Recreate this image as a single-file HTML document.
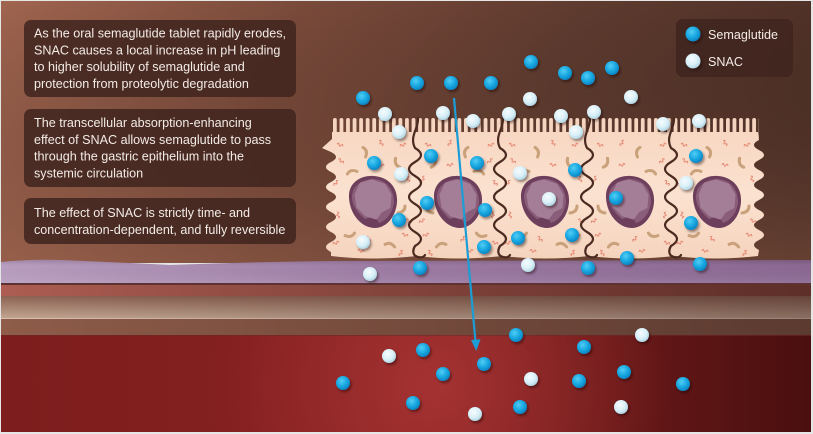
<!DOCTYPE html>
<html><head><meta charset="utf-8"><style>
html,body{margin:0;padding:0;background:#e6e6e6;}
svg{display:block;}
text{font-family:"Liberation Sans",Arial,sans-serif;}
</style></head><body>
<svg width="813" height="434" viewBox="0 0 813 434" xmlns="http://www.w3.org/2000/svg">
<defs>
  <linearGradient id="bgTop" x1="0" y1="0" x2="813" y2="120" gradientUnits="userSpaceOnUse">
    <stop offset="0" stop-color="#a0654f"/>
    <stop offset="0.35" stop-color="#7b4b3b"/>
    <stop offset="0.7" stop-color="#5f3b2f"/>
    <stop offset="1" stop-color="#4f3127"/>
  </linearGradient>
  <linearGradient id="bgTopV" x1="0" y1="0" x2="0" y2="260" gradientUnits="userSpaceOnUse">
    <stop offset="0" stop-color="#000" stop-opacity="0"/>
    <stop offset="1" stop-color="#8c5a46" stop-opacity="0.35"/>
  </linearGradient>
  <linearGradient id="purp" x1="0" y1="0" x2="813" y2="0" gradientUnits="userSpaceOnUse">
    <stop offset="0" stop-color="#b89ec0"/>
    <stop offset="0.5" stop-color="#9c7aa2"/>
    <stop offset="1" stop-color="#8a6892"/>
  </linearGradient>
  <linearGradient id="purpV" x1="0" y1="258" x2="0" y2="283" gradientUnits="userSpaceOnUse">
    <stop offset="0" stop-color="#3a2030" stop-opacity="0.25"/>
    <stop offset="0.3" stop-color="#3a2030" stop-opacity="0"/>
    <stop offset="1" stop-color="#fff" stop-opacity="0.08"/>
  </linearGradient>
  <linearGradient id="band1" x1="0" y1="0" x2="813" y2="0" gradientUnits="userSpaceOnUse">
    <stop offset="0" stop-color="#ad5d52"/>
    <stop offset="1" stop-color="#80423a"/>
  </linearGradient>
  <linearGradient id="band2" x1="0" y1="296" x2="0" y2="318" gradientUnits="userSpaceOnUse">
    <stop offset="0" stop-color="#8c6253"/>
    <stop offset="1" stop-color="#c2a591"/>
  </linearGradient>
  <linearGradient id="band3" x1="0" y1="0" x2="813" y2="0" gradientUnits="userSpaceOnUse">
    <stop offset="0" stop-color="#8e5c49"/>
    <stop offset="1" stop-color="#5b3a30"/>
  </linearGradient>
  <linearGradient id="darkR" x1="0" y1="0" x2="813" y2="0" gradientUnits="userSpaceOnUse">
    <stop offset="0" stop-color="#1e0a08" stop-opacity="0"/>
    <stop offset="1" stop-color="#1e0a08" stop-opacity="0.35"/>
  </linearGradient>
  <linearGradient id="blood" x1="0" y1="0" x2="813" y2="0" gradientUnits="userSpaceOnUse">
    <stop offset="0" stop-color="#7e1d1d"/>
    <stop offset="0.5" stop-color="#862121"/>
    <stop offset="1" stop-color="#4a0f0f"/>
  </linearGradient>
  <radialGradient id="bloodHi" cx="440" cy="385" r="230" gradientUnits="userSpaceOnUse">
    <stop offset="0" stop-color="#b03838" stop-opacity="0.75"/>
    <stop offset="1" stop-color="#b03838" stop-opacity="0"/>
  </radialGradient>
  <linearGradient id="cellG" x1="0" y1="132" x2="0" y2="258" gradientUnits="userSpaceOnUse">
    <stop offset="0" stop-color="#f7d7c2"/>
    <stop offset="0.5" stop-color="#fbe2d0"/>
    <stop offset="1" stop-color="#f5d4be"/>
  </linearGradient>
  <pattern id="vil" x="333" y="118" width="6.55" height="30" patternUnits="userSpaceOnUse">
    <rect x="0" y="0" width="3.8" height="30" rx="1.9" fill="#f6d5c0"/>
  </pattern>
  <radialGradient id="gb" cx="0.4" cy="0.35" r="0.7">
    <stop offset="0" stop-color="#52cdf4"/>
    <stop offset="0.55" stop-color="#18a7e1"/>
    <stop offset="1" stop-color="#0a7fbd"/>
  </radialGradient>
  <radialGradient id="gs" cx="0.4" cy="0.35" r="0.7">
    <stop offset="0" stop-color="#f6fcfe"/>
    <stop offset="0.6" stop-color="#d8eff7"/>
    <stop offset="1" stop-color="#a9d0df"/>
  </radialGradient>
  <filter id="sh" x="-50%" y="-50%" width="200%" height="200%">
    <feDropShadow dx="1.5" dy="2" stdDeviation="1.3" flood-color="#1a0a05" flood-opacity="0.45"/>
  </filter>
  <circle id="b" r="7" fill="url(#gb)"/>
  <circle id="s" r="7" fill="url(#gs)"/>
  <g id="nuc">
    <path d="M-24,-4 C-25,-21 -10,-27 1,-26 C15,-25 25,-15 24,0 C23,15 13,26 2,26 C-11,26 -23,13 -24,-4 Z" fill="#6e3f5c"/>
    <path d="M-21,-5 C-21,-18 -8,-23 1,-23 C13,-22 21,-13 21,0 C20,11 13,19 6,21 L2,14 L-8,17 C-15,11 -21,4 -21,-5 Z" fill="#8a5d7a"/>
    <path d="M-17,-7 L-12,-18 L-1,-21 L11,-17 L17,-7 L16,5 L8,9 L3,16 L-7,13 L-15,5 Z" fill="#a47e96" stroke="#a47e96" stroke-width="3" stroke-linejoin="round"/>
  </g>
  <g id="org" fill="none" stroke-linecap="round">
    <g stroke="#c9a17a" stroke-width="3">
      <path d="M-4,-3 Q2,-3 3,4" transform="translate(-8,-51) rotate(30)"/>
      <path d="M-4,-3 Q2,-3 3,4" transform="translate(-21,-31) rotate(-60)"/>
      <path d="M-4,-3 Q2,-3 3,4" transform="translate(24,-40) rotate(200)"/>
      <path d="M-4,-3 Q2,-3 3,4" transform="translate(29,7) rotate(90)"/>
      <path d="M-4,-3 Q2,-3 3,4" transform="translate(-23,32) rotate(120)"/>
      <path d="M-4,-3 Q2,-3 3,4" transform="translate(17,42) rotate(-30)"/>
    </g>
    <g stroke="#e58571" stroke-width="1">
      <path d="M-3,0 q1,-2.5 2,0 t2,0 t2,0" transform="translate(-33,-58) rotate(20)"/>
      <path d="M-3,0 q1,-2.5 2,0 t2,0 t2,0" transform="translate(8,-60) rotate(60)"/>
      <path d="M-3,0 q1,-2.5 2,0 t2,0 t2,0" transform="translate(30,-58) rotate(-20)"/>
      <path d="M-3,0 q1,-2.5 2,0 t2,0 t2,0" transform="translate(-32,-42) rotate(40)"/>
      <path d="M-3,0 q1,-2.5 2,0 t2,0 t2,0" transform="translate(8,-38) rotate(10)"/>
      <path d="M-3,0 q1,-2.5 2,0 t2,0 t2,0" transform="translate(35,-24) rotate(70)"/>
      <path d="M-3,0 q1,-2.5 2,0 t2,0 t2,0" transform="translate(-37,-20) rotate(-50)"/>
      <path d="M-3,0 q1,-2.5 2,0 t2,0 t2,0" transform="translate(36,18) rotate(30)"/>
      <path d="M-3,0 q1,-2.5 2,0 t2,0 t2,0" transform="translate(-35,12) rotate(80)"/>
      <path d="M-3,0 q1,-2.5 2,0 t2,0 t2,0" transform="translate(-37,40) rotate(-20)"/>
      <path d="M-3,0 q1,-2.5 2,0 t2,0 t2,0" transform="translate(-5,36) rotate(50)"/>
      <path d="M-3,0 q1,-2.5 2,0 t2,0 t2,0" transform="translate(32,32) rotate(20)"/>
      <path d="M-3,0 q1,-2.5 2,0 t2,0 t2,0" transform="translate(-12,48) rotate(10)"/>
      <path d="M-3,0 q1,-2.5 2,0 t2,0 t2,0" transform="translate(28,50) rotate(-60)"/>
    </g>
  </g>
  <path id="bnd" d="M2,118 C3,128 -7,136 -1,148 q12,7 0,14 t0,14 t0,14 t0,14 t0,14 t0,14 t0,14 c-3,5 -2,10 3,11 c3,1 6,0 7,-2" fill="none" stroke="#4b2a20" stroke-width="2.2" stroke-linecap="round"/>
</defs>

<rect x="0" y="0" width="813" height="434" fill="#e6e6e6"/>

<rect x="1" y="1" width="810" height="262" fill="url(#bgTop)"/>
<rect x="1" y="1" width="810" height="262" fill="url(#bgTopV)"/>

<path d="M1,262 Q30,259 60,260 Q110,262 170,265 Q250,262 330,261 L811,260 L811,283 L1,283 Z" fill="url(#purp)"/>
<path d="M1,262 Q30,259 60,260 Q110,262 170,265 Q250,262 330,261 L811,260 L811,283 L1,283 Z" fill="url(#purpV)"/>

<rect x="1" y="283" width="810" height="2" fill="#5e3232"/>
<rect x="1" y="285" width="810" height="11" fill="url(#band1)"/>
<rect x="1" y="296" width="810" height="22" fill="url(#band2)"/>
<rect x="1" y="318" width="810" height="1" fill="#d6bfb0"/>
<rect x="1" y="319" width="810" height="16" fill="url(#band3)"/>
<rect x="1" y="285" width="810" height="34" fill="url(#darkR)"/>

<rect x="1" y="335" width="810" height="97" fill="url(#blood)"/>
<rect x="1" y="335" width="810" height="97" fill="url(#bloodHi)"/>
<rect x="1" y="335" width="810" height="1" fill="#6a2a26" opacity="0.6"/>

<rect x="333" y="118" width="426" height="20" fill="url(#vil)"/>
<path d="M332,132 L758,132 L759,140 Q749,145 759,150 T759,160 T759,170 T759,180 T759,190 T759,200 T759,210 T759,220 T759,230 T759,240 T759,250 L758,256 Q715,261 674,256 Q630,261 589,256 Q545,261 502,256 Q458,261 417,256 Q372,261 331,256 L331,252 Q321,247 331,242 T331,232 T331,222 T331,212 T331,202 T331,192 T331,182 T331,172 T331,162 T331,152 L322,148 L332,139 Z" fill="url(#cellG)"/>

<use href="#org" x="373" y="203"/>
<use href="#org" x="458" y="203" transform="translate(916,0) scale(-1,1)"/>
<use href="#org" x="545" y="203"/>
<use href="#org" x="630" y="203" transform="translate(1260,0) scale(-1,1)"/>
<use href="#org" x="717" y="203"/>

<use href="#nuc" x="373" y="202"/>
<use href="#nuc" x="458" y="202"/>
<use href="#nuc" x="545" y="202"/>
<use href="#nuc" x="630" y="202"/>
<use href="#nuc" x="717" y="202"/>

<use href="#bnd" x="416" y="0"/>
<use href="#bnd" x="501" y="0"/>
<use href="#bnd" x="588" y="0"/>
<use href="#bnd" x="672" y="0"/>

<line x1="454" y1="98" x2="475.5" y2="342" stroke="#1c9dd5" stroke-width="2.2"/>
<path d="M471,340 L480.5,339.2 L476.3,351 Z" fill="#1c9dd5"/>

<g filter="url(#sh)">
  <use href="#b" x="363" y="98"/><use href="#b" x="417" y="83"/><use href="#b" x="451" y="83"/><use href="#b" x="491" y="83"/>
  <use href="#b" x="531" y="62"/><use href="#b" x="565" y="73"/><use href="#b" x="588" y="78"/><use href="#b" x="612" y="68"/>
  <use href="#s" x="530" y="99"/><use href="#s" x="631" y="97"/><use href="#s" x="385" y="114"/><use href="#s" x="443" y="113"/>
  <use href="#s" x="473" y="121"/><use href="#s" x="509" y="114"/><use href="#s" x="561" y="116"/><use href="#s" x="594" y="112"/>
  <use href="#s" x="399" y="132"/><use href="#s" x="576" y="132"/><use href="#s" x="663" y="124"/><use href="#s" x="699" y="121"/>

  <use href="#b" x="374" y="163"/><use href="#s" x="401" y="174"/><use href="#b" x="431" y="156"/><use href="#b" x="477" y="163"/>
  <use href="#s" x="520" y="173"/><use href="#b" x="575" y="170"/><use href="#b" x="696" y="156"/><use href="#s" x="686" y="183"/>
  <use href="#b" x="427" y="203"/><use href="#s" x="549" y="199"/><use href="#b" x="616" y="198"/><use href="#b" x="399" y="220"/>
  <use href="#b" x="485" y="210"/><use href="#b" x="691" y="223"/><use href="#s" x="363" y="242"/><use href="#b" x="484" y="247"/>
  <use href="#b" x="518" y="238"/><use href="#b" x="572" y="235"/><use href="#b" x="627" y="258"/>

  <use href="#b" x="420" y="268"/><use href="#s" x="370" y="274"/><use href="#s" x="528" y="265"/><use href="#b" x="588" y="268"/><use href="#b" x="700" y="264"/>

  <use href="#b" x="516" y="335"/><use href="#s" x="642" y="335"/><use href="#s" x="389" y="356"/><use href="#b" x="423" y="350"/>
  <use href="#b" x="584" y="347"/><use href="#b" x="484" y="364"/><use href="#b" x="443" y="374"/><use href="#s" x="531" y="379"/>
  <use href="#b" x="579" y="381"/><use href="#b" x="624" y="372"/><use href="#b" x="683" y="384"/><use href="#b" x="343" y="383"/>
  <use href="#b" x="413" y="403"/><use href="#s" x="475" y="414"/><use href="#b" x="520" y="407"/><use href="#s" x="621" y="407"/>
</g>

<g fill="#3f251e" fill-opacity="0.85">
  <rect x="24" y="20" width="272" height="77" rx="7"/>
  <rect x="24" y="109" width="272" height="78" rx="7"/>
  <rect x="24" y="198" width="272" height="46" rx="7"/>
  <rect x="676" y="19" width="117" height="58" rx="7"/>
</g>
<g fill="#f3ebe6" font-size="12.6">
  <text x="34" y="37.5">As the oral semaglutide tablet rapidly erodes,</text>
  <text x="34" y="54.3">SNAC causes a local increase in pH leading</text>
  <text x="34" y="71.1">to higher solubility of semaglutide and</text>
  <text x="34" y="87.9">protection from proteolytic degradation</text>
  <text x="34" y="127">The transcellular absorption-enhancing</text>
  <text x="34" y="143.8">effect of SNAC allows semaglutide to pass</text>
  <text x="34" y="160.6">through the gastric epithelium into the</text>
  <text x="34" y="177.4">systemic circulation</text>
  <text x="34" y="217">The effect of SNAC is strictly time- and</text>
  <text x="34" y="233.8">concentration-dependent, and fully reversible</text>
  <text x="708" y="39">Semaglutide</text>
  <text x="708" y="66">SNAC</text>
</g>
<g filter="url(#sh)">
  <circle cx="693" cy="34" r="7.5" fill="url(#gb)"/>
  <circle cx="693" cy="61" r="7.5" fill="url(#gs)"/>
</g>
</svg>
</body></html>
